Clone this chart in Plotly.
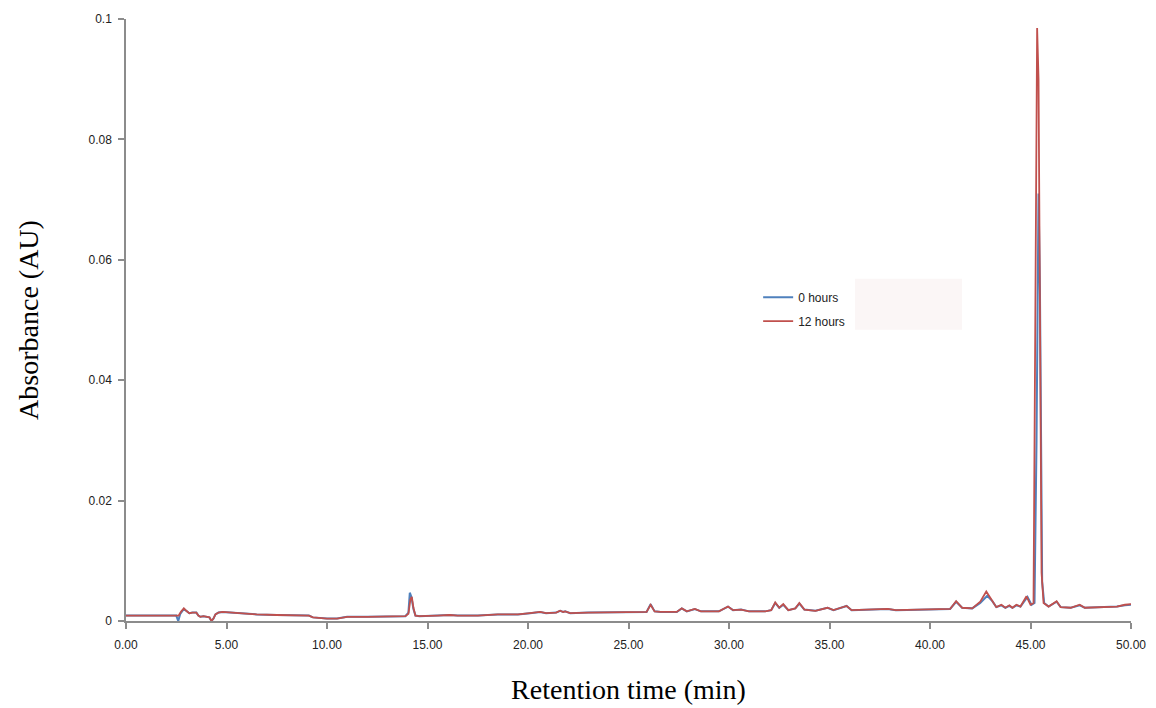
import plotly.graph_objects as go

# Retention time (min) and absorbance (AU)
t_12h = [0.0, 1.5, 2.55, 2.62, 2.75, 2.88, 3.0, 3.15, 3.3, 3.5, 3.6, 3.7, 3.85, 4.0, 4.15, 4.25,
         4.35, 4.45, 4.6, 4.8, 5.2, 5.6, 6.5, 7.5, 8.5, 9.1, 9.3, 9.6, 10.0, 10.5, 10.8, 11.0,
         12.0, 13.0, 13.9, 14.05, 14.15, 14.22, 14.3, 14.4, 14.6, 15.5, 16.1, 16.5, 17.5, 18.5,
         19.5, 20.1, 20.6, 20.9, 21.4, 21.6, 21.75, 21.85, 22.1, 23.0, 24.0, 25.0, 25.9, 26.1,
         26.3, 26.6, 27.4, 27.65, 27.9, 28.3, 28.6, 29.5, 29.95, 30.2, 30.6, 31.0, 31.8, 32.1,
         32.3, 32.5, 32.7, 32.95, 33.3, 33.5, 33.75, 34.3, 34.9, 35.2, 35.85, 36.1, 37.0, 37.9,
         38.3, 39.5, 40.5, 41.0, 41.3, 41.6, 42.1, 42.5, 42.8, 43.05, 43.3, 43.55, 43.75, 43.95,
         44.1, 44.3, 44.5, 44.8, 45.0, 45.15, 45.25, 45.33, 45.4, 45.48, 45.55, 45.65, 45.9,
         46.3, 46.5, 47.0, 47.45, 47.7, 48.5, 49.3, 49.7, 50.0]
abs_12h = [0.0009, 0.0009, 0.0009, 0.0009, 0.0016, 0.0021, 0.0017, 0.0013, 0.0014, 0.0014, 0.0009,
           0.0007, 0.0008, 0.0007, 0.0006, 0.0000, 0.0004, 0.0011, 0.0014, 0.0015, 0.0014, 0.0012,
           0.0011, 0.0010, 0.0010, 0.0009, 0.0006, 0.0005, 0.0004, 0.0004, 0.0006, 0.0007, 0.0007,
           0.0008, 0.0008, 0.0012, 0.0036, 0.0040, 0.0022, 0.0009, 0.0008, 0.0009, 0.0010, 0.0009,
           0.0009, 0.0011, 0.0011, 0.0013, 0.0015, 0.0013, 0.0014, 0.0017, 0.0015, 0.0016, 0.0013,
           0.0014, 0.0014, 0.0015, 0.0015, 0.0027, 0.0016, 0.0015, 0.0015, 0.0021, 0.0016, 0.0020,
           0.0016, 0.0016, 0.0024, 0.0018, 0.0019, 0.0016, 0.0016, 0.0018, 0.0031, 0.0022, 0.0028,
           0.0018, 0.0021, 0.0030, 0.0019, 0.0017, 0.0022, 0.0018, 0.0025, 0.0018, 0.0019, 0.0020,
           0.0018, 0.0019, 0.0019, 0.0020, 0.0033, 0.0022, 0.0021, 0.0032, 0.0049, 0.0035, 0.0023,
           0.0027, 0.0022, 0.0026, 0.0022, 0.0027, 0.0024, 0.0041, 0.0027, 0.0030, 0.0600, 0.0985,
           0.0900, 0.0350, 0.0080, 0.0030, 0.0024, 0.0033, 0.0023, 0.0022, 0.0027, 0.0022, 0.0023,
           0.0024, 0.0027, 0.0028]

t_0h = [0.0, 1.5, 2.5, 2.6, 2.7, 2.88, 3.0, 3.15, 3.3, 3.5, 3.6, 3.7, 3.85, 4.0, 4.15, 4.25,
        4.35, 4.45, 4.6, 4.8, 5.2, 5.6, 6.5, 7.5, 8.5, 9.1, 9.3, 9.6, 10.0, 10.5, 10.8, 11.0,
        12.0, 13.0, 13.9, 14.05, 14.12, 14.2, 14.3, 14.4, 14.6, 15.5, 16.1, 16.5, 17.5, 18.5,
        19.5, 20.1, 20.6, 20.9, 21.4, 21.6, 21.75, 21.85, 22.1, 23.0, 24.0, 25.0, 25.9, 26.1,
        26.3, 26.6, 27.4, 27.65, 27.9, 28.3, 28.6, 29.5, 29.95, 30.2, 30.6, 31.0, 31.8, 32.1,
        32.3, 32.5, 32.7, 32.95, 33.3, 33.5, 33.75, 34.3, 34.9, 35.2, 35.85, 36.1, 37.0, 37.9,
        38.3, 39.5, 40.5, 41.0, 41.3, 41.6, 42.1, 42.5, 42.85, 43.1, 43.3, 43.55, 43.75, 43.95,
        44.1, 44.3, 44.5, 44.85, 45.05, 45.2, 45.3, 45.4, 45.47, 45.53, 45.58, 45.68, 45.9,
        46.3, 46.5, 47.0, 47.45, 47.7, 48.5, 49.3, 49.7, 50.0]
abs_0h = [0.0009, 0.0009, 0.0009, 0.0000, 0.0012, 0.0020, 0.0017, 0.0013, 0.0014, 0.0014, 0.0009,
          0.0007, 0.0008, 0.0007, 0.0006, 0.0000, 0.0004, 0.0011, 0.0014, 0.0015, 0.0014, 0.0012,
          0.0011, 0.0010, 0.0010, 0.0009, 0.0006, 0.0005, 0.0004, 0.0004, 0.0006, 0.0007, 0.0007,
          0.0008, 0.0008, 0.0014, 0.0047, 0.0040, 0.0020, 0.0009, 0.0008, 0.0009, 0.0010, 0.0009,
          0.0009, 0.0011, 0.0011, 0.0013, 0.0015, 0.0013, 0.0014, 0.0017, 0.0015, 0.0016, 0.0013,
          0.0014, 0.0014, 0.0015, 0.0015, 0.0028, 0.0016, 0.0015, 0.0015, 0.0021, 0.0016, 0.0020,
          0.0016, 0.0016, 0.0024, 0.0018, 0.0019, 0.0016, 0.0016, 0.0018, 0.0030, 0.0022, 0.0027,
          0.0018, 0.0021, 0.0029, 0.0019, 0.0017, 0.0022, 0.0018, 0.0025, 0.0018, 0.0019, 0.0020,
          0.0018, 0.0019, 0.0019, 0.0020, 0.0032, 0.0022, 0.0021, 0.0030, 0.0042, 0.0033, 0.0023,
          0.0026, 0.0022, 0.0025, 0.0022, 0.0026, 0.0024, 0.0040, 0.0027, 0.0030, 0.0300, 0.0710,
          0.0550, 0.0200, 0.0065, 0.0030, 0.0024, 0.0032, 0.0023, 0.0022, 0.0026, 0.0022, 0.0023,
          0.0024, 0.0026, 0.0027]

y_tickvals = [0, 0.02, 0.04, 0.06, 0.08, 0.1]
y_ticktext = ["0", "0.02", "0.04", "0.06", "0.08", "0.1"]
x_tickvals = [0, 5, 10, 15, 20, 25, 30, 35, 40, 45, 50]
x_ticktext = ["0.00", "5.00", "10.00", "15.00", "20.00", "25.00", "30.00", "35.00", "40.00", "45.00", "50.00"]

fig = go.Figure()
fig.add_trace(go.Scatter(x=t_0h, y=abs_0h, mode="lines", name="0 hours",
                         line=dict(color="#4f81bd", width=2), legendgroup="a"))
fig.add_trace(go.Scatter(x=t_12h, y=abs_12h, mode="lines", name="12 hours",
                         line=dict(color="#c0504d", width=1.8), legendgroup="b"))

axis_col = "#8c8c8c"
tick_font = dict(family="Liberation Sans, Arial, sans-serif", size=12, color="#222222")
title_font = dict(family="Liberation Serif, Times New Roman, serif", size=28, color="#000000")

# page body has an 8px margin: plot area spans x 126..1131, y 19..621.5 in the window
fig.update_layout(
    width=1148, height=700,
    margin=dict(l=118, r=25, t=11, b=86.5, autoexpand=False),
    paper_bgcolor="white", plot_bgcolor="white",
    showlegend=True,
    legend=dict(x=0.629, y=0.562, xanchor="left", yanchor="top",
                bgcolor="rgba(0,0,0,0)", borderwidth=0,
                font=dict(family="Liberation Sans, Arial, sans-serif", size=12, color="#222222"),
                tracegroupgap=5, traceorder="grouped"),
    xaxis=dict(range=[0, 50], tickvals=x_tickvals, ticktext=x_ticktext, automargin=False,
               showgrid=False, zeroline=False, showline=True, linecolor=axis_col, linewidth=1.5,
               ticks="outside", ticklen=6, tickcolor=axis_col, tickwidth=1.5,
               tickfont=tick_font, ticklabelstandoff=6,
               title=dict(text="Retention time (min)", font=title_font, standoff=28)),
    yaxis=dict(range=[0, 0.1], tickvals=y_tickvals, ticktext=y_ticktext, automargin=False,
               showgrid=False, zeroline=False, showline=True, linecolor=axis_col, linewidth=1.5,
               ticks="outside", ticklen=6, tickcolor=axis_col, tickwidth=1.5,
               tickfont=tick_font, ticklabelstandoff=4,
               title=dict(text="Absorbance (AU)", font=title_font, standoff=42)),
    shapes=[dict(type="rect", xref="paper", yref="paper",
                 x0=(855 - 126) / 1005, x1=(962 - 126) / 1005,
                 y0=(621.5 - 330) / 602.5, y1=(621.5 - 279) / 602.5,
                 fillcolor="#fbf6f6", line=dict(width=0), layer="below")],
)

fig.write_html("out.html")
